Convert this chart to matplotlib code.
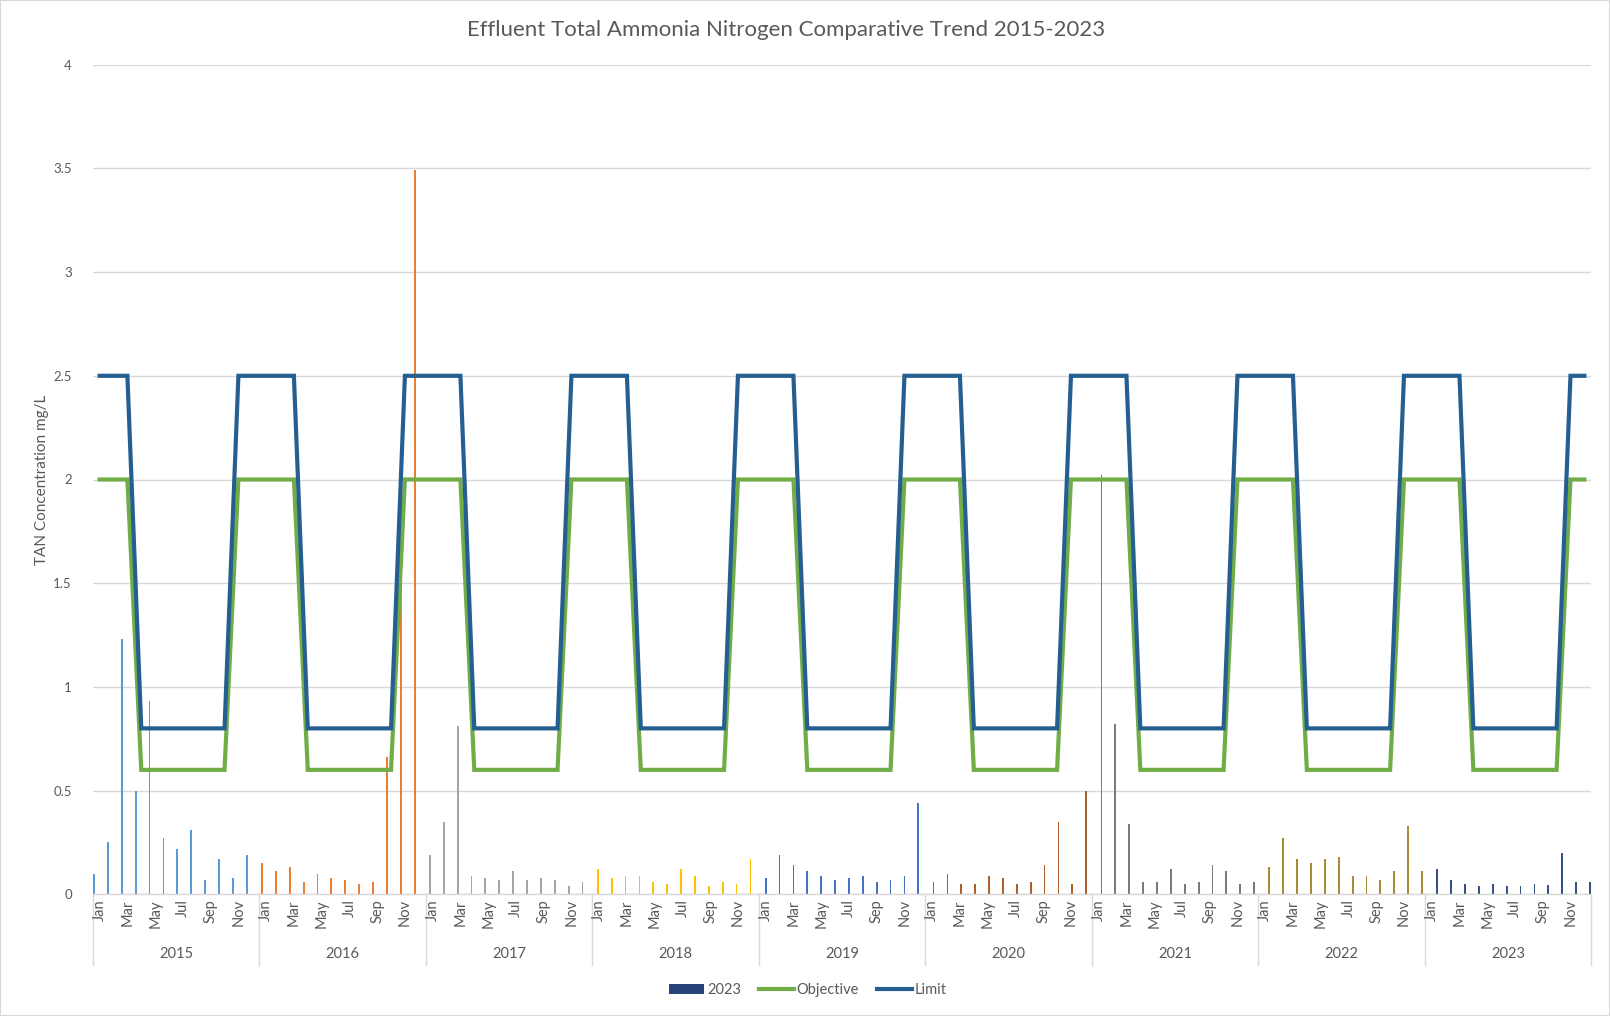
import matplotlib
matplotlib.use("Agg")
import matplotlib.pyplot as plt
from matplotlib.patches import Patch, Rectangle
from matplotlib.lines import Line2D
import numpy as np

plt.rcParams['font.family'] = ['Lato', 'DejaVu Sans']

years = ['2015', '2016', '2017', '2018', '2019', '2020', '2021', '2022', '2023']
months = ['Jan', 'Feb', 'Mar', 'Apr', 'May', 'Jun',
          'Jul', 'Aug', 'Sep', 'Oct', 'Nov', 'Dec']

# Monthly effluent TAN results (mg/L), one list per year
tan_2015 = [0.10, 0.25, 1.23, 0.50, 0.93, 0.27, 0.22, 0.31, 0.07, 0.17, 0.08, 0.19]
tan_2016 = [0.15, 0.11, 0.13, 0.06, 0.10, 0.08, 0.07, 0.05, 0.06, 0.66, 1.90, 3.49]
tan_2017 = [0.19, 0.35, 0.81, 0.09, 0.08, 0.07, 0.11, 0.07, 0.08, 0.07, 0.04, 0.06]
tan_2018 = [0.12, 0.08, 0.09, 0.09, 0.06, 0.05, 0.12, 0.09, 0.04, 0.06, 0.05, 0.17]
tan_2019 = [0.08, 0.19, 0.14, 0.11, 0.09, 0.07, 0.08, 0.09, 0.06, 0.07, 0.09, 0.44]
tan_2020 = [0.06, 0.10, 0.05, 0.05, 0.09, 0.08, 0.05, 0.06, 0.14, 0.35, 0.05, 0.50]
tan_2021 = [2.02, 0.82, 0.34, 0.06, 0.06, 0.12, 0.05, 0.06, 0.14, 0.11, 0.05, 0.06]
tan_2022 = [0.13, 0.27, 0.17, 0.15, 0.17, 0.18, 0.09, 0.09, 0.07, 0.11, 0.33, 0.11]
tan_2023 = [0.12, 0.07, 0.05, 0.04, 0.05, 0.04, 0.04, 0.05, 0.045, 0.20, 0.06, 0.06]
tan_series = [tan_2015, tan_2016, tan_2017, tan_2018, tan_2019,
              tan_2020, tan_2021, tan_2022, tan_2023]

# Permit objective and limit (mg/L): winter Nov-Mar, summer Apr-Oct
objective = [
    2.0, 2.0, 2.0, 0.6, 0.6, 0.6, 0.6, 0.6, 0.6, 0.6, 2.0, 2.0,  # 2015
    2.0, 2.0, 2.0, 0.6, 0.6, 0.6, 0.6, 0.6, 0.6, 0.6, 2.0, 2.0,  # 2016
    2.0, 2.0, 2.0, 0.6, 0.6, 0.6, 0.6, 0.6, 0.6, 0.6, 2.0, 2.0,  # 2017
    2.0, 2.0, 2.0, 0.6, 0.6, 0.6, 0.6, 0.6, 0.6, 0.6, 2.0, 2.0,  # 2018
    2.0, 2.0, 2.0, 0.6, 0.6, 0.6, 0.6, 0.6, 0.6, 0.6, 2.0, 2.0,  # 2019
    2.0, 2.0, 2.0, 0.6, 0.6, 0.6, 0.6, 0.6, 0.6, 0.6, 2.0, 2.0,  # 2020
    2.0, 2.0, 2.0, 0.6, 0.6, 0.6, 0.6, 0.6, 0.6, 0.6, 2.0, 2.0,  # 2021
    2.0, 2.0, 2.0, 0.6, 0.6, 0.6, 0.6, 0.6, 0.6, 0.6, 2.0, 2.0,  # 2022
    2.0, 2.0, 2.0, 0.6, 0.6, 0.6, 0.6, 0.6, 0.6, 0.6, 2.0, 2.0,  # 2023
]
limit = [
    2.5, 2.5, 2.5, 0.8, 0.8, 0.8, 0.8, 0.8, 0.8, 0.8, 2.5, 2.5,  # 2015
    2.5, 2.5, 2.5, 0.8, 0.8, 0.8, 0.8, 0.8, 0.8, 0.8, 2.5, 2.5,  # 2016
    2.5, 2.5, 2.5, 0.8, 0.8, 0.8, 0.8, 0.8, 0.8, 0.8, 2.5, 2.5,  # 2017
    2.5, 2.5, 2.5, 0.8, 0.8, 0.8, 0.8, 0.8, 0.8, 0.8, 2.5, 2.5,  # 2018
    2.5, 2.5, 2.5, 0.8, 0.8, 0.8, 0.8, 0.8, 0.8, 0.8, 2.5, 2.5,  # 2019
    2.5, 2.5, 2.5, 0.8, 0.8, 0.8, 0.8, 0.8, 0.8, 0.8, 2.5, 2.5,  # 2020
    2.5, 2.5, 2.5, 0.8, 0.8, 0.8, 0.8, 0.8, 0.8, 0.8, 2.5, 2.5,  # 2021
    2.5, 2.5, 2.5, 0.8, 0.8, 0.8, 0.8, 0.8, 0.8, 0.8, 2.5, 2.5,  # 2022
    2.5, 2.5, 2.5, 0.8, 0.8, 0.8, 0.8, 0.8, 0.8, 0.8, 2.5, 2.5,  # 2023
]

year_colors = ['#5B9BD5', '#ED7D31', '#A5A5A5', '#FFC000', '#4472C4',
               '#B0602A', '#7A7A7A', '#A88A3A', '#34508A']
legend_2023_color = '#264478'
objective_color = '#70AD47'
limit_color = '#255E91'
text_color = '#595959'
grid_color = '#D9D9D9'

W, H = 1610, 1016
fig = plt.figure(figsize=(W / 100, H / 100), dpi=100)
fig.patch.set_facecolor('white')

left, right = 92.7, 1591.3
top, bottom = 64.7, 894.3
ax = fig.add_axes([left / W, 1 - bottom / H, (right - left) / W, (bottom - top) / H])

n_months = len(years) * 12
x = np.arange(n_months)

# clustered bars: each year is its own series, offset within the month slot
slot = 0.1
bar_w = 0.13
for i, (yr, vals) in enumerate(zip(years, tan_series)):
    xs = x[i * 12:(i + 1) * 12] + (i - 4) * slot
    ax.bar(xs, vals, width=bar_w, color=year_colors[i], linewidth=0, zorder=2)

ax.plot(x, objective, color=objective_color, lw=3.0, zorder=3,
        solid_joinstyle='miter')
ax.plot(x, limit, color=limit_color, lw=3.0, zorder=4,
        solid_joinstyle='miter')

ax.set_xlim(-0.5, n_months - 0.5)
ax.set_ylim(0, 4)
yt = np.arange(0, 4.01, 0.5)
ax.set_yticks(yt)
ax.set_yticklabels([('%g' % v) for v in yt], fontsize=9.5, color=text_color)
ax.tick_params(axis='y', length=0, pad=15)
ax.set_xticks([])
ax.grid(axis='y', color=grid_color, lw=1, zorder=0)
ax.set_axisbelow(True)
for s in ['left', 'right', 'top']:
    ax.spines[s].set_visible(False)
ax.spines['bottom'].set_color(grid_color)
ax.spines['bottom'].set_linewidth(1)

ax.set_ylabel('TAN Concentration mg/L', fontsize=11, color=text_color, labelpad=3)

# two-level category axis: months then years
trans = ax.get_xaxis_transform()
ax_h = bottom - top
for k in range(n_months):
    m = k % 12
    if m % 2 == 0:
        ax.text(k, -5 / ax_h, months[m], rotation=90, ha='center', va='top',
                fontsize=10.5, color=text_color, transform=trans, clip_on=False)
for i, yr in enumerate(years):
    ax.text(i * 12 + 5.5, -60 / ax_h, yr, ha='center', va='center',
            fontsize=10.5, color=text_color, transform=trans, clip_on=False)
for i in range(len(years) + 1):
    ax.add_line(Line2D([i * 12 - 0.5, i * 12 - 0.5], [0, -71 / ax_h],
                       transform=trans, color=grid_color, lw=1, clip_on=False))

fig.text(786.5 / W, 1 - 30 / H,
         'Effluent Total Ammonia Nitrogen Comparative Trend 2015-2023',
         ha='center', va='center', fontsize=16, color=text_color)

handles = [Patch(facecolor=legend_2023_color, edgecolor='none', label='2023'),
           Line2D([], [], color=objective_color, lw=3, label='Objective'),
           Line2D([], [], color=limit_color, lw=3, label='Limit')]
fig.legend(handles=handles, loc='center', bbox_to_anchor=(808 / W, 1 - 990 / H),
           ncol=3, frameon=False, fontsize=10.5, labelcolor=text_color,
           handlelength=2.4, handletextpad=0.2, columnspacing=1.2,
           handleheight=0.7)

fig.add_artist(Rectangle((0, 0), 1, 1, transform=fig.transFigure,
                         fill=False, edgecolor=grid_color, lw=1.5))

fig.savefig('out.png', dpi=100, facecolor='white')
